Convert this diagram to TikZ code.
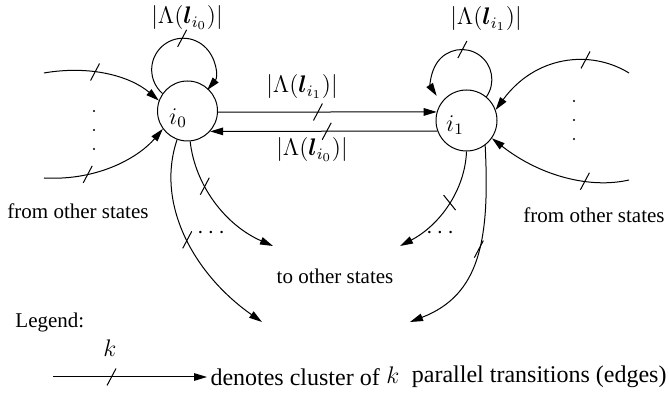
\documentclass[tikz,border=0pt]{standalone}
\usepackage[no-math]{fontspec}
\setmainfont{Liberation Serif}
\usepackage{bm}
\usetikzlibrary{arrows.meta,decorations.markings}
\begin{document}
\begin{tikzpicture}[x=0.5pt,y=0.5pt,line width=0.5pt,
  arr/.style={-{Triangle[length=6.5pt,width=3.8pt]}},
  kmark/.style={postaction={decorate,decoration={markings,mark=at position #1 with {\pgftransformresetnontranslations\draw[-] (-4.5,-8.5) -- (4.5,8.5);}}}},
  kmarkb/.style={postaction={decorate,decoration={markings,mark=at position #1 with {\pgftransformresetnontranslations\draw[-] (-6,7.5) -- (6,-7.5);}}}},
  state/.style={circle,draw,minimum size=30pt,inner sep=0pt},
  txt/.style={font=\fontsize{10.5}{12.6}\selectfont,inner sep=0pt},
  legtxt/.style={font=\fontsize{12}{14.4}\selectfont,inner sep=0pt},
  mth/.style={font=\fontsize{12}{14}\selectfont,inner sep=0pt}]
\useasboundingbox (0,0) rectangle (669,411);
% states
\node[state] (i0) at (187.5,300) {};
\node[mth] (i0l) at (178,293) {$i_0$};
\node[state,minimum size=30.5pt] (i1) at (466.5,290.5) {};
\node[mth] (i1l) at (455,286) {$i_1$};
% self loops
\draw[arr,kmark=0.51] (i0.145) arc[start angle=229,end angle=-40,radius=31.5];
\draw[arr,kmark=0.5] (i1.50) arc[start angle=-35,end angle=213,radius=30];
\node[mth] (l0) at (187,393) {$|\Lambda(\bm{l}_{i_0})|$};
\node[mth] (l1) at (486,392) {$|\Lambda(\bm{l}_{i_1})|$};
% between states
\draw[arr,kmark=0.457] (i0.-2) -- (i1.164);
\draw[arr,kmark=0.487] (i1.200) -- (i0.-42);
\node[mth] (lu) at (302,324) {$|\Lambda(\bm{l}_{i_1})|$};
\node[mth] (ld) at (312,261) {$|\Lambda(\bm{l}_{i_0})|$};
% incoming from other states (left)
\coordinate (inlu) at (44,338);
\coordinate (inll) at (44,233);
\draw[arr,kmark=0.42] (inlu) .. controls (90,346) and (130,335) .. (i0.160);
\draw[arr,kmark=0.33] (inll) .. controls (100,230) and (140,255) .. (i0.216);
\fill (94,300) circle (1.1) (94,281) circle (1.1) (94,262) circle (1.1);
% incoming from other states (right)
\coordinate (inru) at (629,338);
\coordinate (inrl) at (629,231);
\draw[arr,kmark=0.3] (inru) .. controls (590,362) and (535,355) .. (i1.20);
\draw[arr,kmark=0.3] (inrl) .. controls (590,222) and (540,235) .. (i1.-35);
\fill (574,310) circle (1.1) (574,291) circle (1.1) (574,272) circle (1.1);
\node[txt] (fromL) at (78,200) {from other states};
\node[txt] (fromR) at (594,196) {from other states};
% outgoing to other states
\coordinate (oa) at (262,89);
\coordinate (ob) at (273,165);
\coordinate (oc) at (400,165);
\coordinate (od) at (410,89);
\draw[arr,kmark=0.48] (i0.250) .. controls (155,206) and (195,136) .. (oa);
\draw[arr,kmark=0.34] (i0.275) .. controls (195,226) and (225,186) .. (ob);
\draw[arr,kmarkb=0.45] (i1.270) .. controls (465,221) and (440,186) .. (oc);
\draw[arr,kmark=0.5] (i1.307) .. controls (490,171) and (480,116) .. (od);
\node[mth] (dl) at (211,178) {$\cdots$};
\node[mth] (dr) at (440,178) {$\cdots$};
\node[txt] (to) at (335,135) {to other states};
% legend
\node[txt,anchor=west] (leg) at (15,89) {Legend:};
\coordinate (la) at (53,34);
\coordinate (lb) at (207,34);
\draw[arr,kmark=0.38] (la) -- (lb);
\node[mth] (lk) at (110,63) {$k$};
\node[legtxt,anchor=west] (lt1) at (210,34) {denotes cluster of};
\node[mth] (lt2) at (393,36) {$k$};
\node[legtxt,anchor=east] (lt3) at (667,34) {parallel transitions (edges)};
\end{tikzpicture}
\end{document}
